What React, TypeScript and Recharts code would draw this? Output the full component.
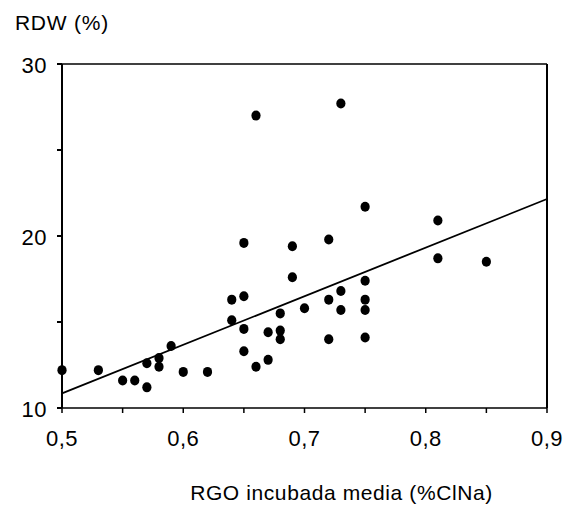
import { ComposedChart, Scatter, XAxis, YAxis, ReferenceLine, Label } from 'recharts';

// RGO incubada media (%ClNa) vs RDW (%)
const rgoValues = [
  0.5, 0.53, 0.55, 0.56, 0.57, 0.57, 0.58, 0.58, 0.59, 0.6, 0.62, 0.64, 0.64, 0.65,
  0.65, 0.65, 0.65, 0.66, 0.66, 0.67, 0.67, 0.68, 0.68, 0.68, 0.69, 0.69, 0.7, 0.72,
  0.72, 0.72, 0.73, 0.73, 0.73, 0.75, 0.75, 0.75, 0.75, 0.75, 0.81, 0.81, 0.85,
];
const rdwValues = [
  12.2, 12.2, 11.6, 11.6, 11.2, 12.6, 12.9, 12.4, 13.6, 12.1, 12.1, 16.3, 15.1, 19.6,
  16.5, 14.6, 13.3, 27.0, 12.4, 14.4, 12.8, 15.5, 14.5, 14.0, 19.4, 17.6, 15.8, 19.8,
  16.3, 14.0, 27.7, 16.8, 15.7, 21.7, 17.4, 16.3, 15.7, 14.1, 20.9, 18.7, 18.5,
];

// regression line end points
const trendX = [0.5, 0.9];
const trendY = [10.85, 22.15];

const xTicks = [0.5, 0.55, 0.6, 0.65, 0.7, 0.75, 0.8, 0.85, 0.9];
const yTicks = [10, 15, 20, 25, 30];

const points = rgoValues.map((x, i) => ({ x, y: rdwValues[i] }));
const trend = trendX.map((x, i) => ({ x, y: trendY[i] }));

const FONT = '"Liberation Sans", Arial, Helvetica, sans-serif';

const isMajorX = (v: number) => Math.abs(Math.round(v * 10) - v * 10) < 1e-6;

function XTick(props: any) {
  const { x, y, payload } = props;
  if (!isMajorX(payload.value)) return <g />;
  return (
    <text x={x} y={y} dy="0.71em" textAnchor="middle" fontSize={22} fontFamily={FONT} fill="#000" letterSpacing={0.5}>
      {payload.value.toFixed(1).replace('.', ',')}
    </text>
  );
}

function YTick(props: any) {
  const { x, y, payload } = props;
  if (payload.value % 10 !== 0) return <g />;
  return (
    <text x={x} y={y} dy="0.4em" textAnchor="end" fontSize={22} fontFamily={FONT} fill="#000" letterSpacing={0.5}>
      {payload.value}
    </text>
  );
}

const Dot = (props: any) => {
  const { cx, cy } = props;
  return <ellipse cx={cx} cy={cy} rx={4.6} ry={5} fill="#000" />;
};

export default function App() {
  return (
    <div style={{ position: 'absolute', left: 0, top: 0, width: 568, height: 513, background: '#fff' }}>
      <ComposedChart width={568} height={513} margin={{ top: 64, right: 21, bottom: 0, left: 0 }}>
        <XAxis
          type="number"
          dataKey="x"
          domain={[0.5, 0.9]}
          ticks={xTicks}
          interval={0}
          height={105}
          stroke="#000"
          strokeWidth={1.5}
          tickSize={5}
          tickMargin={17}
          tick={<XTick />}
        >
          <Label
            value="RGO incubada media (%ClNa)"
            position="insideTop"
            offset={77}
            dx={37}
            fontSize={21}
            fontFamily={FONT}
            fill="#000"
            letterSpacing={0.6}
          />
        </XAxis>
        <YAxis
          type="number"
          dataKey="y"
          domain={[10, 30]}
          ticks={yTicks}
          interval={0}
          width={62}
          stroke="#000"
          strokeWidth={2}
          tickSize={5}
          tickMargin={10}
          tick={<YTick />}
        >
          <Label
            value="RDW (%)"
            position="top"
            offset={34}
            dx={31}
            fontSize={21}
            fontFamily={FONT}
            fill="#000"
            letterSpacing={0.8}
          />
        </YAxis>
        <ReferenceLine y={30} stroke="#000" strokeWidth={1.5} />
        <ReferenceLine x={0.9} stroke="#000" strokeWidth={2} />
        <Scatter
          data={trend}
          line={{ stroke: '#000', strokeWidth: 1.8 }}
          shape={() => <g />}
          isAnimationActive={false}
        />
        <Scatter data={points} shape={<Dot />} isAnimationActive={false} />
      </ComposedChart>
    </div>
  );
}
